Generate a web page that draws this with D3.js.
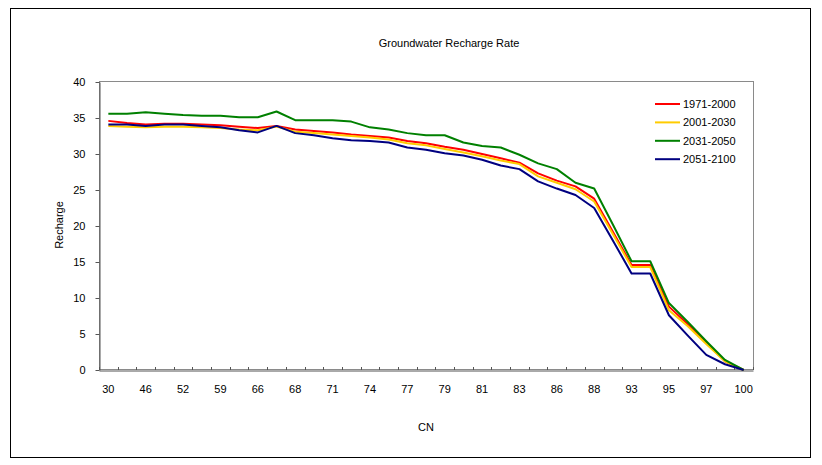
<!DOCTYPE html>
<html><head><meta charset="utf-8">
<script src="https://cdn.jsdelivr.net/npm/d3@7"></script>
<style>body{margin:0;background:#fff}svg text{font-family:"Liberation Sans",Arial,sans-serif;fill:#000}</style>
</head><body><svg id="c" width="822" height="465"></svg>
<script>
const categories = ["30","40","46","49","52","56","59","62","66","67","68","70","71","72","74","75","77","78","79","80","81","82","83","85","86","87","88","90","93","94","95","96","97","98","100"];
const tickLabels = ["30","46","52","59","66","68","71","74","77","79","81","83","86","88","93","95","97","100"];
const yTicks = [0,5,10,15,20,25,30,35,40];
const seriesNames = ["1971-2000","2001-2030","2031-2050","2051-2100"];
const seriesColors = ["#ff0000","#ffcc00","#008000","#000080"];
const s1971 = [34.6,34.3,34.1,34.2,34.2,34.1,34.0,33.8,33.6,33.9,33.4,33.2,33.0,32.7,32.5,32.3,31.8,31.5,31.0,30.6,30.0,29.4,28.8,27.3,26.3,25.5,23.8,19.2,14.6,14.6,8.8,6.4,3.8,1.2,0];
const s2001 = [33.9,33.8,33.7,33.8,33.8,33.7,33.6,33.4,33.3,33.8,33.1,32.9,32.7,32.5,32.3,32.0,31.5,31.2,30.7,30.2,29.7,29.1,28.6,26.9,26.0,25.1,23.4,18.9,14.3,14.3,8.3,6.1,3.6,1.2,0];
const s2031 = [35.6,35.6,35.8,35.6,35.4,35.3,35.3,35.1,35.1,35.9,34.7,34.7,34.7,34.5,33.7,33.4,32.9,32.6,32.6,31.6,31.1,30.9,29.9,28.7,27.9,26.0,25.2,20.2,15.1,15.1,9.3,6.7,4.0,1.4,0];
const s2051 = [34.1,34.1,33.9,34.1,34.1,33.9,33.7,33.3,33.0,33.9,32.9,32.6,32.2,31.9,31.8,31.6,30.9,30.6,30.1,29.8,29.2,28.4,27.9,26.2,25.2,24.3,22.5,18.0,13.4,13.4,7.6,4.8,2.1,0.8,0];
const allSeries = [s1971,s2001,s2031,s2051];

const svg = d3.select("#c");
const L=99, R=753, T=82, B=370;
const x = d3.scaleBand().domain(categories).range([L,R]);
const y = d3.scaleLinear().domain([0,40]).range([B,T]);
const bw = x.bandwidth();

svg.append("rect").attr("x",10.5).attr("y",8.5).attr("width",800).attr("height",449)
  .attr("fill","none").attr("stroke","#000");

svg.append("rect").attr("x",L+0.5).attr("y",T-0.5).attr("width",R-L).attr("height",B-T)
  .attr("fill","none").attr("stroke","#8a8a8a");

svg.append("text").attr("x",449).attr("y",47).attr("text-anchor","middle")
  .style("font-size","11px").text("Groundwater Recharge Rate");

const ya = svg.append("g").attr("transform",`translate(${L+0.5},0)`)
  .call(d3.axisLeft(y).tickValues(yTicks).tickSize(4).tickSizeOuter(0).tickPadding(10));
ya.select(".domain").attr("stroke","#555");
ya.selectAll(".tick line").attr("stroke","#555");
ya.selectAll("text").style("font-size","11px").style("font-family","Liberation Sans, Arial");

const xa = svg.append("g").attr("transform",`translate(0,${B+0.5})`)
  .call(d3.axisBottom(x).tickSize(0).tickSizeOuter(0).tickPadding(15)
    .tickFormat((d,i)=> i%2===0 ? tickLabels[i/2] : ""));
xa.select(".domain").attr("stroke","#555");
xa.selectAll("text").style("font-size","11px").style("font-family","Liberation Sans, Arial");
const bounds = categories.map(c=>x(c)).concat([R]);
svg.append("g").selectAll("line").data(bounds).join("line")
  .attr("x1",d=>Math.round(d)+0.5).attr("x2",d=>Math.round(d)+0.5)
  .attr("y1",B-3).attr("y2",B).attr("stroke","#555");

svg.append("text").attr("transform",`translate(63,225) rotate(-90)`).attr("text-anchor","middle")
  .style("font-size","11px").text("Recharge");
svg.append("text").attr("x",426).attr("y",431).attr("text-anchor","middle")
  .style("font-size","11px").text("CN");

const line = d3.line().x((d,i)=>x(categories[i])+bw/2).y(d=>y(d));
allSeries.forEach((s,k)=>{
  svg.append("path").datum(s).attr("d",line).attr("fill","none")
    .attr("stroke",seriesColors[k]).attr("stroke-width",2).attr("stroke-linejoin","round");
});

const lg = svg.append("g");
seriesNames.forEach((n,k)=>{
  const yy = 104 + k*18.4;
  lg.append("line").attr("x1",655).attr("x2",680).attr("y1",yy).attr("y2",yy)
    .attr("stroke",seriesColors[k]).attr("stroke-width",2);
  lg.append("text").attr("x",683).attr("y",yy+4).style("font-size","11px").text(n);
});
</script></body></html>
